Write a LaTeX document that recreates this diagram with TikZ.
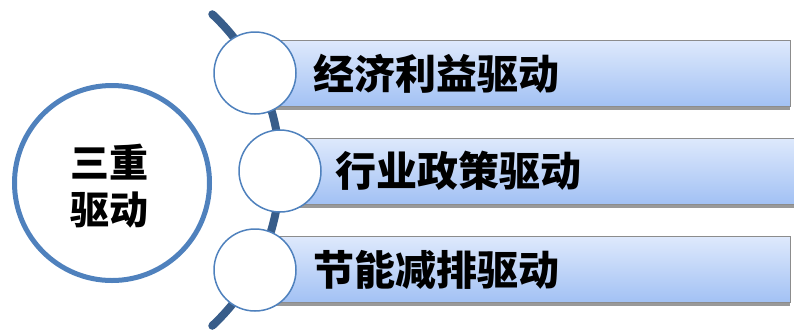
\documentclass[tikz,border=0pt]{standalone}
\usepackage{fontspec}
\newfontfamily\cjk{Noto Sans CJK SC}
\usetikzlibrary{shadows,calc}
\definecolor{ringblue}{RGB}{79,129,189}
\definecolor{arcblue}{RGB}{56,93,138}
\definecolor{bartop}{RGB}{222,233,252}
\definecolor{barbot}{RGB}{162,193,244}
\definecolor{baredge}{RGB}{140,140,140}
\tikzset{
  bigring/.style={circle, draw=ringblue, line width=5pt, fill=white, minimum size=195pt, inner sep=0pt},
  smallring/.style={circle, draw=ringblue, line width=1.5pt, fill=white, minimum size=82pt, inner sep=0pt},
  barbox/.style={rectangle, draw=baredge, line width=0.8pt, top color=bartop, bottom color=barbot,
    minimum width=535pt, minimum height=66pt, inner sep=0pt, anchor=west,
    drop shadow={shadow xshift=0pt, shadow yshift=-3.5pt, opacity=0.4, fill=black}},
  bartext/.style={anchor=west, inner sep=0pt, font=\cjk\bfseries\fontsize{41}{43}\selectfont, text=black},
  maintext/.style={align=center, inner sep=0pt, font=\cjk\bfseries\fontsize{39}{47}\selectfont, text=black},
  spine/.style={draw=arcblue, line width=8pt, line cap=round}
}
\begin{document}
\begin{tikzpicture}[x=1pt,y=-1pt]
\useasboundingbox (0,0) rectangle (794,330);
\coordinate (ac) at (67,170);
\coordinate (atop) at ($(ac)+(47:213pt)$);
\draw[spine] (atop) arc[start angle=47, end angle=-47, radius=213pt];
\node[barbox] (b1) at (255,73.5) {};
\node[barbox] (b2) at (280,171) {};
\node[barbox] (b3) at (255,269.5) {};
\node[smallring] (c1) at (255,73) {};
\node[smallring] (c2) at (280,171) {};
\node[smallring] (c3) at (255,270) {};
\node[bartext] (t1) at (313,73.5) {经济利益驱动};
\node[bartext] (t2) at (335,171) {行业政策驱动};
\node[bartext] (t3) at (313,269.5) {节能减排驱动};
\node[bigring] (main) at (112,183) {};
\node[maintext] (mt) at (109,186) {三重\\驱动};
\end{tikzpicture}
\end{document}
